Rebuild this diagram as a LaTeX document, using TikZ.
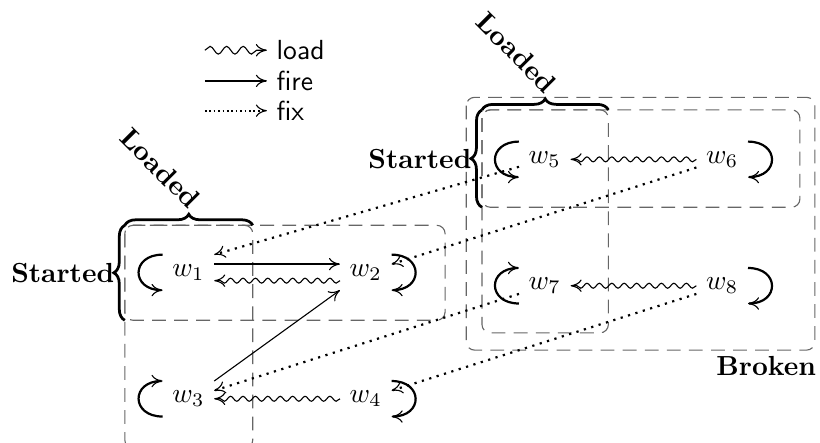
\documentclass[tikz,border=0pt]{standalone}
\usepackage{amsmath,amssymb,amsfonts}
\usepackage{tikz}
\usetikzlibrary{arrows.meta,decorations.pathmorphing,decorations.pathreplacing}
\tikzset{
  >={To[length=4pt,width=4.5pt,line width=.4pt 0]},
  fire/.style={->},
  load/.style={->, decorate, decoration={snake, amplitude=.9pt, segment length=4.5pt, post length=2pt}},
  fix/.style={->, thick, dotted},
  grp/.style={black!60, dash pattern=on 5pt off 3pt, rounded corners=3pt},
  brc/.style={line width=1pt, decorate, decoration={brace, amplitude=4pt}},
  lpl/.style={thick, ->, out=180, in=180, looseness=2.3},
  lpr/.style={thick, ->, out=0, in=0, looseness=2.3},
  lbl/.style={font=\bfseries},
  lgd/.style={font=\sffamily, anchor=west}
}

\begin{document}
\begin{tikzpicture}
\useasboundingbox (0,0) rectangle (10.446,-5.631);
\draw [grp] (1.59,-2.87) rectangle (5.67,-4.08);
\draw [grp] (1.59,-2.87) rectangle (3.22,-5.71);
\draw [grp] (6.14,-1.40) rectangle (10.19,-2.64);
\draw [grp] (6.14,-1.40) rectangle (7.75,-4.24);
\draw [grp] (5.94,-1.24) rectangle (10.38,-4.46);
\node [lbl, below] (brk) at (9.76,-4.42) {Broken};
\draw [brc] (1.59,-4.08)--node[lbl, midway, left] (st1) {Started} (1.59,-2.87);
\draw [brc] (1.59,-2.87)--node[lbl, midway, above left, rotate=-45] (ld1) {Loaded} (3.22,-2.87);
\draw [brc] (6.14,-2.64)--node[lbl, midway, left] (st2) {Started} (6.14,-1.40);
\draw [brc] (6.14,-1.40)--node[lbl, midway, above left, rotate=-45] (ld2) {Loaded} (7.75,-1.40);
\node (w1) at (2.40,-3.47) {$w_1$};
\node (w2) at (4.66,-3.47) {$w_2$};
\node (w3) at (2.40,-5.08) {$w_3$};
\node (w4) at (4.66,-5.08) {$w_4$};
\node (w5) at (6.94,-2.03) {$w_5$};
\node (w6) at (9.20,-2.03) {$w_6$};
\node (w7) at (6.94,-3.64) {$w_7$};
\node (w8) at (9.20,-3.64) {$w_8$};
\draw [lpl] (w1.north west) to (w1.south west);
\draw [lpl] (w3.south west) to (w3.north west);
\draw [lpl] (w5.north west) to (w5.south west);
\draw [lpl] (w7.south west) to (w7.north west);
\draw [lpr] (w2.north east) to (w2.south east);
\draw [lpr] (w4.north east) to (w4.south east);
\draw [lpr] (w6.north east) to (w6.south east);
\draw [lpr] (w8.north east) to (w8.south east);
\draw [fire, thick] ([yshift=3pt]w1.east)--([yshift=3pt]w2.west);
\draw [fire] (w3.north east)--(w2.south west);
\draw [load] ([yshift=-3pt]w2.west)--([yshift=-3pt]w1.east);
\draw [load] (w4)--(w3);
\draw [load] (w6)--(w5);
\draw [load] (w8)--(w7);
\draw [fix] (w5)--(w1.north east);
\draw [fix] (w6)--(w2);
\draw [fix] (w7)--(w3);
\draw [fix] (w8)--(w4);
\coordinate (lg1) at (2.61,-0.64);
\coordinate (lg2) at (2.61,-1.03);
\coordinate (lg3) at (2.61,-1.41);
\node [lgd] (lgload) at (3.40,-0.64) {load};
\node [lgd] (lgfire) at (3.40,-1.03) {fire};
\node [lgd] (lgfix) at (3.40,-1.41) {fix};
\draw [load, decoration={amplitude=1.4pt, segment length=6pt}] (lg1)--(lgload);
\draw [fire, thick] (lg2)--(lgfire);
\draw [fix, semithick, densely dotted] (lg3)--(lgfix);
\end{tikzpicture}
\end{document}
